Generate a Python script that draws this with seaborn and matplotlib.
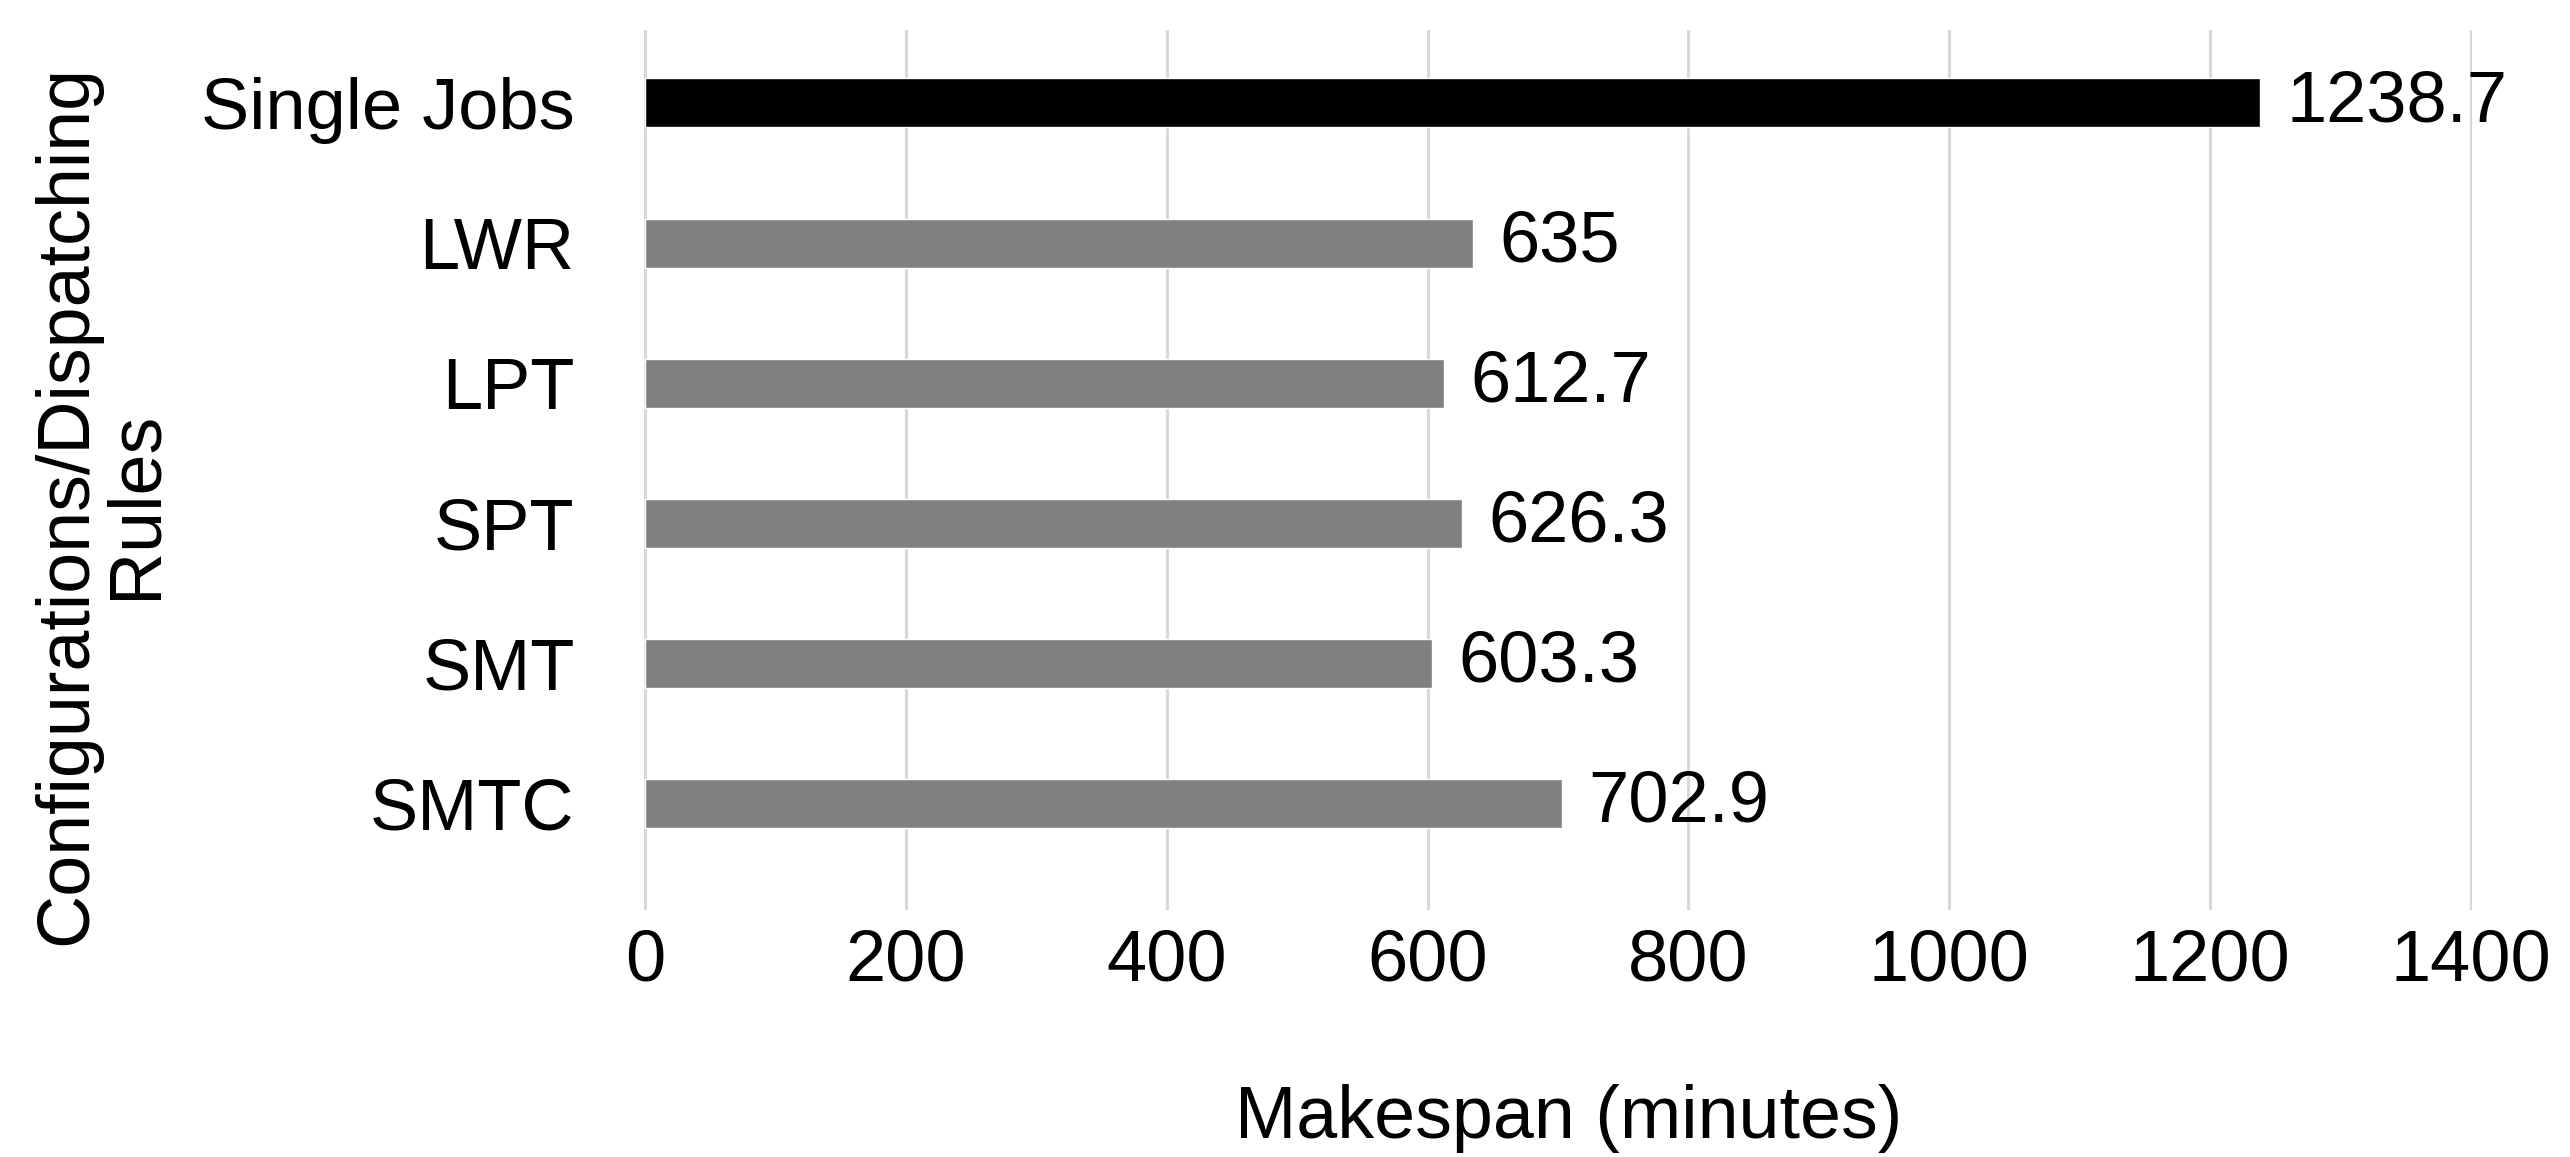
import pandas as pd
import seaborn as sns
import matplotlib.pyplot as plt

categories = ["Single Jobs", "LWR", "LPT", "SPT", "SMT", "SMTC"]
makespan = [1238.7, 635, 612.7, 626.3, 603.3, 702.9]
bar_colors = ["#000000", "#808080", "#808080", "#808080", "#808080", "#808080"]
x_ticks = [0, 200, 400, 600, 800, 1000, 1200, 1400]

df = pd.DataFrame({"rule": categories, "makespan": makespan})

sns.set_style("white")
plt.rcParams["font.family"] = ["Liberation Sans", "DejaVu Sans"]
plt.rcParams["text.color"] = "black"
plt.rcParams["axes.labelcolor"] = "black"
plt.rcParams["xtick.color"] = "black"
plt.rcParams["ytick.color"] = "black"

fig = plt.figure(figsize=(25.7, 11.57), dpi=100)
ax = fig.add_axes([0.2506, 0.2135, 0.7113, 0.7605])

sns.barplot(
    data=df, x="makespan", y="rule", hue="rule",
    palette=bar_colors, orient="h", width=0.35,
    legend=False, saturation=1, ax=ax,
)

# value labels at the bar ends
for cont in ax.containers:
    ax.bar_label(cont, fmt="%g", padding=19, fontsize=52, color="black")

ax.set_xlim(-1, 1401)
ax.set_ylim(5.76, -0.52)
ax.set_xticks(x_ticks)
ax.grid(axis="x", color="#d9d9d9", linewidth=2.2)
ax.set_axisbelow(True)
for s in ax.spines.values():
    s.set_visible(False)

ax.tick_params(axis="x", length=0, pad=13, labelsize=52)
ax.tick_params(axis="y", length=0, pad=50, labelsize=52)

ax.set_xlabel("Makespan (minutes)", fontsize=53)
ax.xaxis.set_label_coords(0.506, -0.198)
ax.set_ylabel("Configurations/Dispatching\nRules", fontsize=53, linespacing=1.0)
ax.yaxis.set_label_coords(-0.297, 0.46)
ax.yaxis.label.set_va("center")

fig.savefig("out.png", dpi=100)
plt.close(fig)
